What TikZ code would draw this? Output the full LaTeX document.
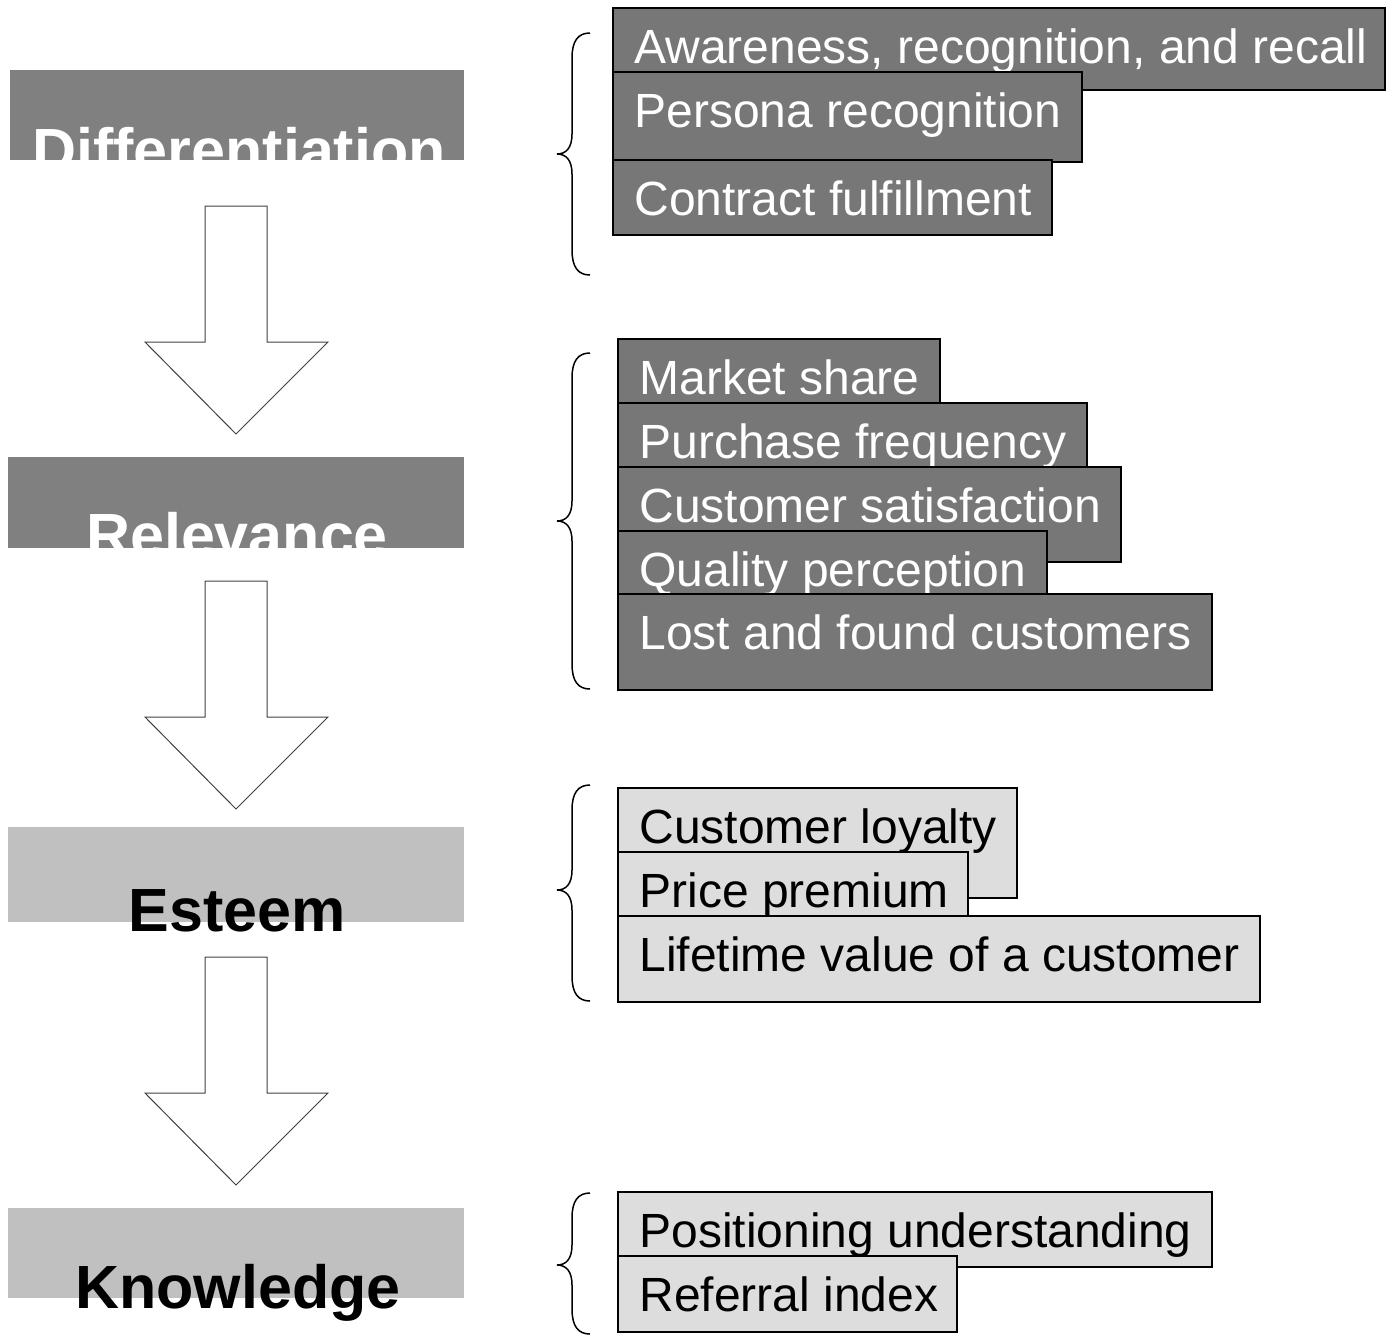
\documentclass[tikz,border=0pt]{standalone}
\usepackage{fontspec}
\setmainfont{Liberation Sans}
\usetikzlibrary{calc,fit}
\definecolor{leftdark}{HTML}{808080}
\definecolor{leftlight}{HTML}{C0C0C0}
\definecolor{itemdark}{HTML}{777777}
\definecolor{itemlight}{HTML}{DDDDDD}
\newcommand{\itembox}[7]{%
  \node[#2box, fit={(#3,#4) (#5,#6)}] (#1) {};
  \node[#2text, anchor=base west] (#1t) at ($(#1.north west)+(22,56)$) {#7};
}
\newcommand{\bracedraw}[3]{%
  \draw[bracestyle] (590,#1) .. controls (578,#1) and (572,#1+8) .. (572,#1+25)
    -- (572,#2-20) .. controls (572,#2-6) and (566,#2) .. (557,#2)
    .. controls (566,#2) and (572,#2+6) .. (572,#2+20)
    -- (572,#3-25) .. controls (572,#3-8) and (578,#3) .. (590,#3);
}
\begin{document}
\begin{tikzpicture}[x=0.5pt,y=-0.5pt,
  darkbox/.style={draw=black, line width=1pt, fill=itemdark, inner sep=0pt},
  lightbox/.style={draw=black, line width=1pt, fill=itemlight, inner sep=0pt},
  darktext/.style={text=white, font=\fontsize{24pt}{28pt}\selectfont, inner sep=0pt},
  lighttext/.style={text=black, font=\fontsize{24pt}{28pt}\selectfont, inner sep=0pt},
  stagebox/.style={inner sep=0pt, draw=none},
  stagetext/.style={font=\fontsize{30.5pt}{34pt}\selectfont\bfseries, inner sep=0pt, anchor=base},
  bracestyle/.style={draw=black, line width=0.75pt},
  blockarrow/.style={draw=black!75, line width=0.5pt, fill=white, line join=miter}
]
\useasboundingbox (0,0) rectangle (1386,1335);

% stage boxes
\node[stagebox, fill=leftdark, fit={(10,70) (464,160)}] (dif) {};
\node[stagetext, text=white] (dift) at (239,171) {Differentiation};
\node[stagebox, fill=leftdark, fit={(8,457) (464,548)}] (rel) {};
\node[stagetext, text=white] (relt) at (237,556) {Relevance};
\node[stagebox, fill=leftlight, fit={(8,827) (464,922)}] (est) {};
\node[stagetext, text=black] (estt) at (237,931) {Esteem};
\node[stagebox, fill=leftlight, fit={(8,1208) (464,1298)}] (kno) {};
\node[stagetext, text=black] (knot) at (238,1308) {Knowledge};

% block arrows
\foreach \d in {0,375,751}{
  \draw[blockarrow] (205,206+\d) -- (267,206+\d) -- (267,342+\d) -- (328,342+\d)
    -- (236,434+\d) -- (145,342+\d) -- (205,342+\d) -- cycle;
}

% braces
\bracedraw{33}{154}{275}
\bracedraw{353}{521}{689}
\bracedraw{785}{890}{1001}
\bracedraw{1193}{1265}{1334}

% group 1
\itembox{aw}{dark}{613}{8}{1385}{90}{Awareness, recognition, and recall}
\itembox{pe}{dark}{613}{72}{1082}{162}{Persona recognition}
\itembox{co}{dark}{613}{160}{1052}{235}{Contract fulfillment}

% group 2
\itembox{ms}{dark}{618}{339}{940}{410}{Market share}
\itembox{pf}{dark}{618}{403}{1087}{475}{Purchase frequency}
\itembox{cs}{dark}{618}{467}{1121}{562}{Customer satisfaction}
\itembox{qp}{dark}{618}{531}{1047}{600}{Quality perception}
\itembox{lf}{dark}{618}{594}{1212}{690}{Lost and found customers}

% group 3
\itembox{cl}{light}{618}{788}{1017}{898}{Customer loyalty}
\itembox{pp}{light}{618}{852}{968}{920}{Price premium}
\itembox{lv}{light}{618}{916}{1260}{1002}{Lifetime value of a customer}

% group 4
\itembox{pu}{light}{618}{1192}{1212}{1267}{Positioning understanding}
\itembox{ri}{light}{618}{1256}{957}{1332}{Referral index}
\end{tikzpicture}
\end{document}
